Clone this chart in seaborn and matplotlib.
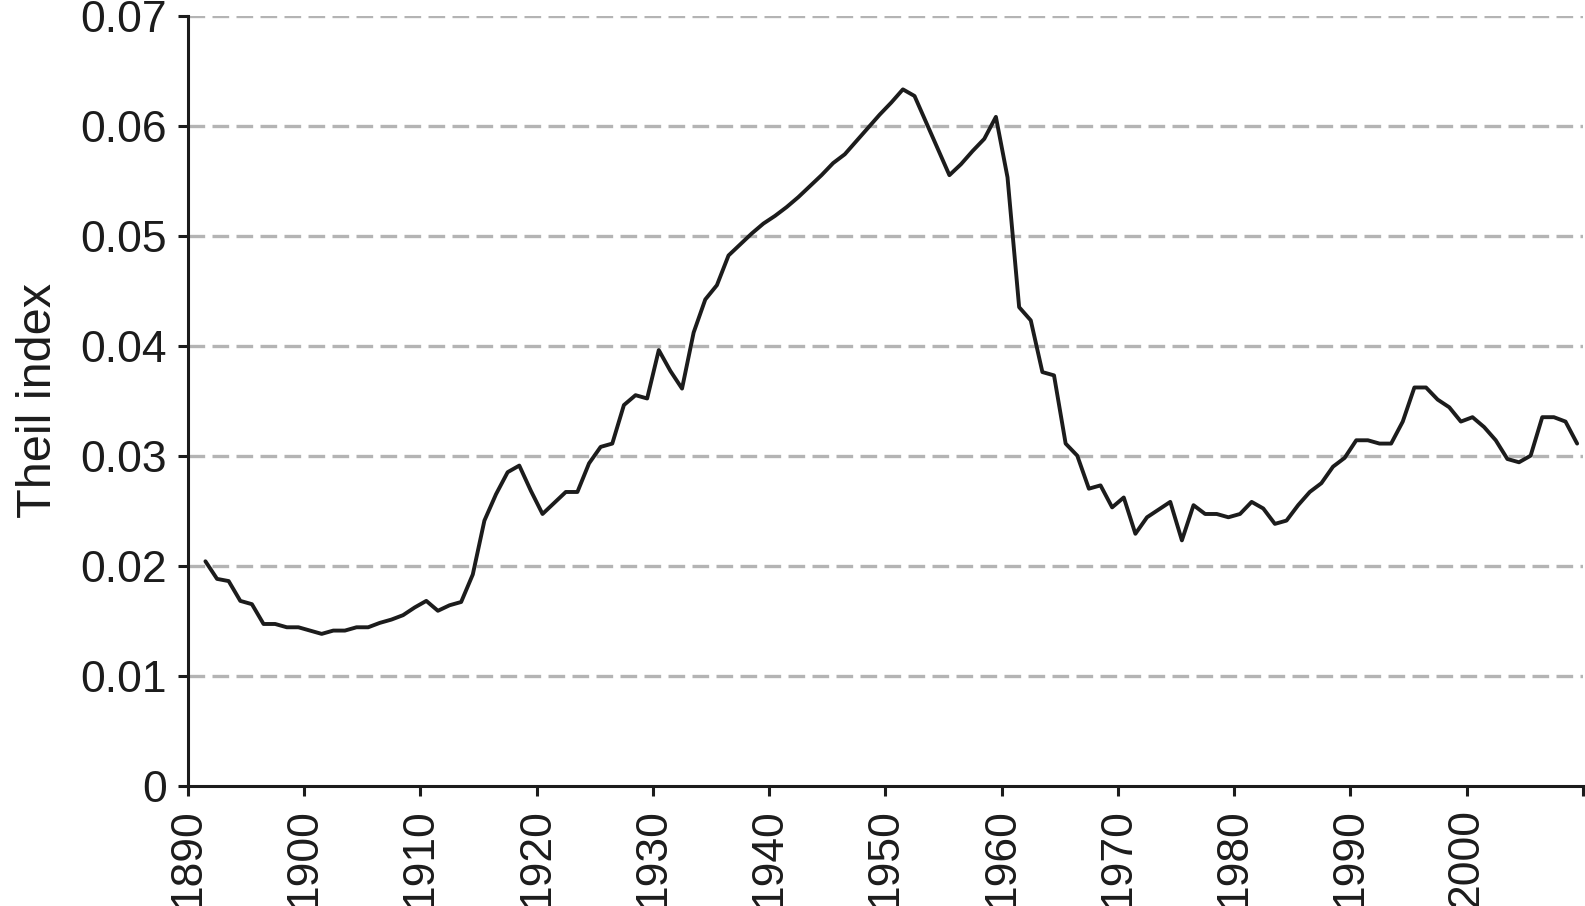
import numpy as np
import pandas as pd
import matplotlib
matplotlib.use("Agg")
import matplotlib.pyplot as plt
import seaborn as sns

# data, one value per year
years = list(range(1891, 2010))
theil = [
    0.0204, 0.0188, 0.0186, 0.0168, 0.0165, 0.0147, 0.0147, 0.0144, 0.0144,  # 1891-1899
    0.0141, 0.0138, 0.0141, 0.0141, 0.0144, 0.0144, 0.0148, 0.0151, 0.0155, 0.0162,  # 1900s
    0.0168, 0.0159, 0.0164, 0.0167, 0.0192, 0.0241, 0.0265, 0.0285, 0.0291, 0.0268,  # 1910s
    0.0247, 0.0257, 0.0267, 0.0267, 0.0293, 0.0308, 0.0311, 0.0346, 0.0355, 0.0352,  # 1920s
    0.0396, 0.0377, 0.0361, 0.0412, 0.0442, 0.0455, 0.0482, 0.0492, 0.0502, 0.0511,  # 1930s
    0.0518, 0.0526, 0.0535, 0.0545, 0.0555, 0.0566, 0.0574, 0.0586, 0.0598, 0.0610,  # 1940s
    0.0621, 0.0633, 0.0627, 0.0603, 0.0579, 0.0555, 0.0565, 0.0577, 0.0588, 0.0608,  # 1950s
    0.0553, 0.0435, 0.0423, 0.0376, 0.0373, 0.0311, 0.0300, 0.0270, 0.0273, 0.0253,  # 1960s
    0.0262, 0.0229, 0.0244, 0.0251, 0.0258, 0.0223, 0.0255, 0.0247, 0.0247, 0.0244,  # 1970s
    0.0247, 0.0258, 0.0252, 0.0238, 0.0241, 0.0255, 0.0267, 0.0275, 0.0290, 0.0298,  # 1980s
    0.0314, 0.0314, 0.0311, 0.0311, 0.0331, 0.0362, 0.0362, 0.0351, 0.0344, 0.0331,  # 1990s
    0.0335, 0.0326, 0.0314, 0.0297, 0.0294, 0.0300, 0.0335, 0.0335, 0.0331, 0.0311,  # 2000s
]
x_ticks = list(range(1890, 2011, 10))
x_labels = [str(t) for t in x_ticks[:-1]] + [""]
y_ticks = [0, 0.01, 0.02, 0.03, 0.04, 0.05, 0.06, 0.07]
y_labels = ["0", "0.01", "0.02", "0.03", "0.04", "0.05", "0.06", "0.07"]

df = pd.DataFrame({"year": years, "theil": theil})
# points sit in the middle of each year slot (category-style axis)
df["xpos"] = df["year"] + 0.5

sns.set_style("white")
plt.rcParams["font.family"] = ["Liberation Sans", "DejaVu Sans"]

fig = plt.figure(figsize=(15.85, 9.06), dpi=100)
ax = fig.add_axes([0.1186, 0.1328, 0.8801, 0.8499])

for t in y_ticks[1:]:
    ax.axhline(t, color="#b4b4b4", lw=2.4, ls=(0, (5, 2.2)), zorder=0)

sns.lineplot(data=df, x="xpos", y="theil", color="#1c1c1c", lw=2.8, ax=ax)

ax.set_xlim(1890, 2010)
ax.set_ylim(0, 0.07)
ax.set_xticks(x_ticks)
ax.set_xticklabels(x_labels, rotation=90, fontsize=32)
ax.set_yticks(y_ticks)
ax.set_yticklabels(y_labels, fontsize=32)
ax.tick_params(axis="both", direction="out", length=7, width=2.2, color="#1c1c1c",
               labelcolor="#1c1c1c", bottom=True, left=True)
ax.tick_params(axis="y", pad=8)
ax.tick_params(axis="x", pad=9)

ax.set_xlabel("")
ax.set_ylabel("Theil index", fontsize=35, color="#1c1c1c", labelpad=14)

sns.despine(ax=ax)
for s in ["left", "bottom"]:
    ax.spines[s].set_linewidth(2.2)
    ax.spines[s].set_color("#1c1c1c")
    ax.spines[s].set_zorder(3)

fig.savefig("out.png", dpi=100)
